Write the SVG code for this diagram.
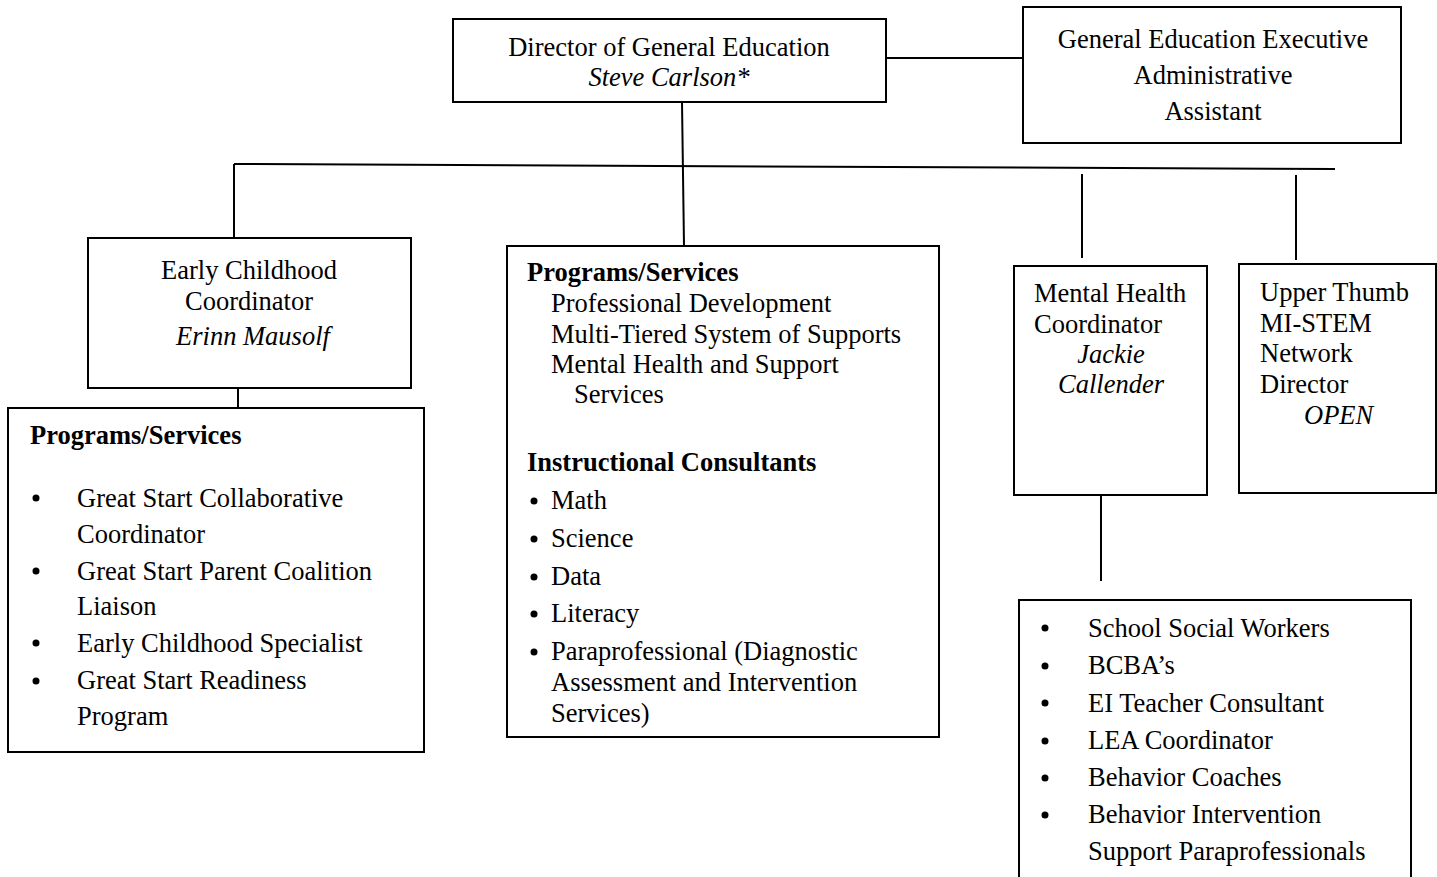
<svg xmlns="http://www.w3.org/2000/svg" width="1437" height="877" viewBox="0 0 1437 877">
<style>
.box{fill:#fff;stroke:#000;stroke-width:2}
.ln{stroke:#000;stroke-width:2;fill:none}
text{font-family:"Liberation Serif","Times New Roman",serif;font-size:26.5px;fill:#000}
.c{text-anchor:middle}
.i{font-style:italic}
.b{font-weight:bold}
</style>
<rect width="1437" height="877" fill="#fff"/>
<g id="connectors">
<line class="ln" x1="886" y1="58" x2="1023" y2="58"/>
<line class="ln" x1="682" y1="102" x2="684" y2="246"/>
<line class="ln" x1="234" y1="164" x2="1335" y2="169"/>
<line class="ln" x1="234" y1="164" x2="234" y2="238"/>
<line class="ln" x1="238" y1="388" x2="238" y2="408"/>
<line class="ln" x1="1082" y1="174" x2="1082" y2="258"/>
<line class="ln" x1="1296" y1="175" x2="1296" y2="260"/>
<line class="ln" x1="1101" y1="495" x2="1101" y2="581"/>
</g>
<g id="director">
<rect class="box" x="453" y="19" width="433" height="83"/>
<text class="c" x="669" y="56">Director of General Education</text>
<text class="c i" x="669" y="86">Steve Carlson*</text>
</g>
<g id="exec-assistant">
<rect class="box" x="1023" y="7" width="378" height="136"/>
<text class="c" x="1213" y="48">General Education Executive</text>
<text class="c" x="1213" y="84">Administrative</text>
<text class="c" x="1213" y="120">Assistant</text>
</g>
<g id="early-childhood">
<rect class="box" x="88" y="238" width="323" height="150"/>
<text class="c" x="249" y="279">Early Childhood</text>
<text class="c" x="249" y="310">Coordinator</text>
<text class="c i" x="253" y="345">Erinn Mausolf</text>
</g>
<g id="ec-programs">
<rect class="box" x="8" y="408" width="416" height="344"/>
<text class="b" x="30" y="444">Programs/Services</text>
<g>
<circle cx="36" cy="498" r="3.5"/><circle cx="36" cy="571" r="3.5"/><circle cx="36" cy="643" r="3.5"/><circle cx="36" cy="681" r="3.5"/>
</g>
<text x="77" y="507">Great Start Collaborative</text>
<text x="77" y="543">Coordinator</text>
<text x="77" y="580">Great Start Parent Coalition</text>
<text x="77" y="615">Liaison</text>
<text x="77" y="652">Early Childhood Specialist</text>
<text x="77" y="689">Great Start Readiness</text>
<text x="77" y="725">Program</text>
</g>
<g id="gen-programs">
<rect class="box" x="507" y="246" width="432" height="491"/>
<text class="b" x="527" y="281">Programs/Services</text>
<text x="551" y="312">Professional Development</text>
<text x="551" y="343">Multi-Tiered System of Supports</text>
<text x="551" y="373">Mental Health and Support</text>
<text x="574" y="403">Services</text>
<text class="b" x="527" y="471">Instructional Consultants</text>
<g>
<circle cx="534" cy="501" r="3.5"/><circle cx="534" cy="539" r="3.5"/><circle cx="534" cy="577" r="3.5"/><circle cx="534" cy="614" r="3.5"/><circle cx="534" cy="652" r="3.5"/>
</g>
<text x="551" y="509">Math</text>
<text x="551" y="547">Science</text>
<text x="551" y="585">Data</text>
<text x="551" y="622">Literacy</text>
<text x="551" y="660">Paraprofessional (Diagnostic</text>
<text x="551" y="691">Assessment and Intervention</text>
<text x="551" y="722">Services)</text>
</g>
<g id="mental-health">
<rect class="box" x="1014" y="266" width="193" height="229"/>
<text x="1034" y="302">Mental Health</text>
<text x="1034" y="333">Coordinator</text>
<text class="c i" x="1111" y="363">Jackie</text>
<text class="c i" x="1111" y="393">Callender</text>
</g>
<g id="upper-thumb">
<rect class="box" x="1239" y="264" width="197" height="229"/>
<text x="1260" y="301">Upper Thumb</text>
<text x="1260" y="332">MI-STEM</text>
<text x="1260" y="362">Network</text>
<text x="1260" y="393">Director</text>
<text class="i" x="1304" y="424">OPEN</text>
</g>
<g id="mh-staff">
<rect class="box" x="1019" y="600" width="392" height="290"/>
<g>
<circle cx="1045" cy="628" r="3.5"/><circle cx="1045" cy="666" r="3.5"/><circle cx="1045" cy="703" r="3.5"/><circle cx="1045" cy="741" r="3.5"/><circle cx="1045" cy="778" r="3.5"/><circle cx="1045" cy="815" r="3.5"/>
</g>
<text x="1088" y="637">School Social Workers</text>
<text x="1088" y="674">BCBA’s</text>
<text x="1088" y="712">EI Teacher Consultant</text>
<text x="1088" y="749">LEA Coordinator</text>
<text x="1088" y="786">Behavior Coaches</text>
<text x="1088" y="823">Behavior Intervention</text>
<text x="1088" y="860">Support Paraprofessionals</text>
</g>
</svg>
